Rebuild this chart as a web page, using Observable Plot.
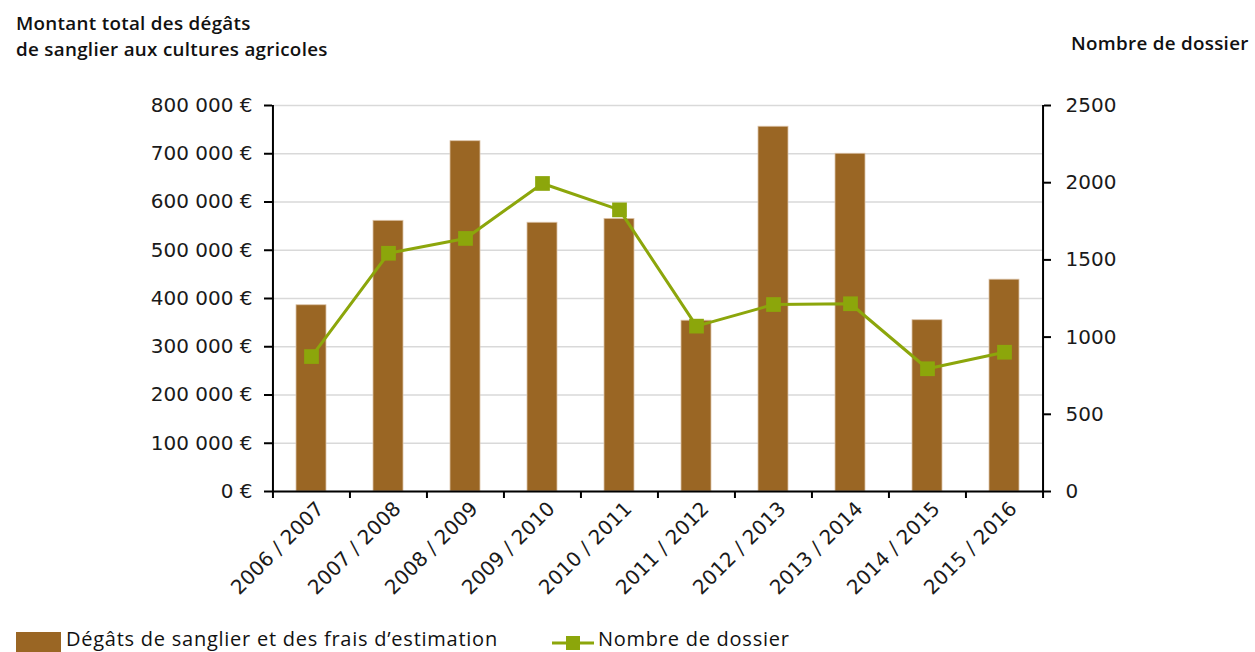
<!DOCTYPE html>
<html>
<head>
<meta charset="utf-8">
<script src="https://cdn.jsdelivr.net/npm/d3@7"></script>
<script src="https://cdn.jsdelivr.net/npm/@observablehq/plot@0.6"></script>
<style>
  body { margin: 0; background: #fff; }
  #wrap { position: relative; width: 1255px; height: 652px; overflow: hidden; background: #fff; }
  #chart { position: absolute; left: 0; top: 0; }
  .title { position: absolute; font-family: "Open Sans", sans-serif; font-weight: 600; font-size: 18.8px; letter-spacing: 0.3px; line-height: 22px; color: #111; white-space: nowrap; }
  .leg { position: absolute; font-family: "Open Sans", sans-serif; font-size: 20px; color: #111; white-space: nowrap; line-height: 20px; letter-spacing: 0.75px; }
  .sw { position: absolute; }
</style>
</head>
<body>
<div id="wrap">
  <div id="chart"></div>
  <div class="title" style="left:16px; top:12px;">Montant total des dégâts</div>
  <div class="title" style="left:16px; top:37.5px;">de sanglier aux cultures agricoles</div>
  <div class="title" style="left:1071px; top:32px;">Nombre de dossier</div>
  <div class="sw" style="left:16px; top:632px; width:45px; height:24px; background:#9a6624;"></div>
  <div class="leg" style="left:66px; top:629px;">Dégâts de sanglier et des frais d’estimation</div>
  <svg class="sw" style="left:550px; top:633px;" width="46" height="20">
    <line x1="2" x2="44" y1="10" y2="10" stroke="#8ca60b" stroke-width="3"></line>
    <rect x="16" y="3" width="14" height="14" fill="#8ca60b"></rect>
  </svg>
  <div class="leg" style="left:598px; top:629px;">Nombre de dossier</div>
</div>
<script>
// ---- Data ----
const categories = ["2006 / 2007", "2007 / 2008", "2008 / 2009", "2009 / 2010", "2010 / 2011",
                    "2011 / 2012", "2012 / 2013", "2013 / 2014", "2014 / 2015", "2015 / 2016"];
const degats = [386000, 561000, 726000, 557000, 565000, 354000, 756000, 700000, 355000, 439000];
const dossiers = [874, 1543, 1639, 1995, 1824, 1071, 1211, 1216, 795, 902];
const leftTicks = [0, 100000, 200000, 300000, 400000, 500000, 600000, 700000, 800000];
const rightTicks = [0, 500, 1000, 1500, 2000, 2500];
const leftMax = 800000;
const rightMax = 2500;

// ---- Build ----
const ratio = leftMax / rightMax;
const rows = categories.map((c, i) => ({cat: c, degats: degats[i], dossiers: dossiers[i]}));
const fmtEuro = d => d3.format(",")(d).replace(/,/g, " ") + " €";

const W = 1255, H = 620, ML = 272, MR = 212, MT = 105, MB = H - 491;
const step = (W - ML - MR) / categories.length;
const BAR = "#9a6624", GREEN = "#8ca60b", AXIS = "#000";

const chart = Plot.plot({
  width: W, height: H,
  marginLeft: ML, marginRight: MR, marginTop: MT, marginBottom: MB,
  style: {fontFamily: "'DejaVu Sans', sans-serif", fontSize: "20px", color: "#1a1a1a", background: "transparent", overflow: "visible"},
  x: {domain: categories, paddingInner: 0.61, paddingOuter: 0.305},
  y: {domain: [0, leftMax]},
  marks: [
    Plot.gridY(leftTicks, {stroke: "#d9d9d9", strokeOpacity: 1, strokeWidth: 1.5}),
    Plot.barY(rows, {x: "cat", y: "degats", fill: BAR, stroke: "#dcc3a8", strokeWidth: 0.8}),
    Plot.line(rows, {x: "cat", y: d => d.dossiers * ratio, stroke: GREEN, strokeWidth: 3}),
    Plot.dot(rows, {x: "cat", y: d => d.dossiers * ratio, symbol: "square", r: 8.3, fill: GREEN, stroke: "none"}),
    // axis lines
    Plot.ruleX([categories[0]], {dx: -step / 2, stroke: AXIS, strokeWidth: 2}),
    Plot.ruleX([categories[categories.length - 1]], {dx: step / 2, stroke: AXIS, strokeWidth: 2}),
    Plot.ruleY([0], {stroke: AXIS, strokeWidth: 2}),
    // left axis
    Plot.axisY(leftTicks, {anchor: "left", tickFormat: fmtEuro, tickSize: 8, tickPadding: 12, stroke: AXIS, strokeWidth: 2, label: null}),
    // right axis
    Plot.axisY(rightTicks.map(v => v * ratio), {anchor: "right", tickFormat: d => String(Math.round(d / ratio)), tickSize: 7, tickPadding: 15, stroke: AXIS, strokeWidth: 2, label: null}),
    // x ticks at band boundaries
    Plot.axisX(categories, {anchor: "bottom", tickSize: 7, dx: -step / 2, tickFormat: () => "", stroke: AXIS, strokeWidth: 2, label: null}),
    Plot.axisX([categories[categories.length - 1]], {anchor: "bottom", tickSize: 7, dx: step / 2, tickFormat: () => "", stroke: AXIS, strokeWidth: 2, label: null}),
    // x labels
    Plot.axisX(categories, {anchor: "bottom", tickSize: 0, tickRotate: -45, tickPadding: 14, dx: 9, label: null})
  ]
});
document.getElementById("chart").appendChild(chart);
</script>
</body>
</html>
